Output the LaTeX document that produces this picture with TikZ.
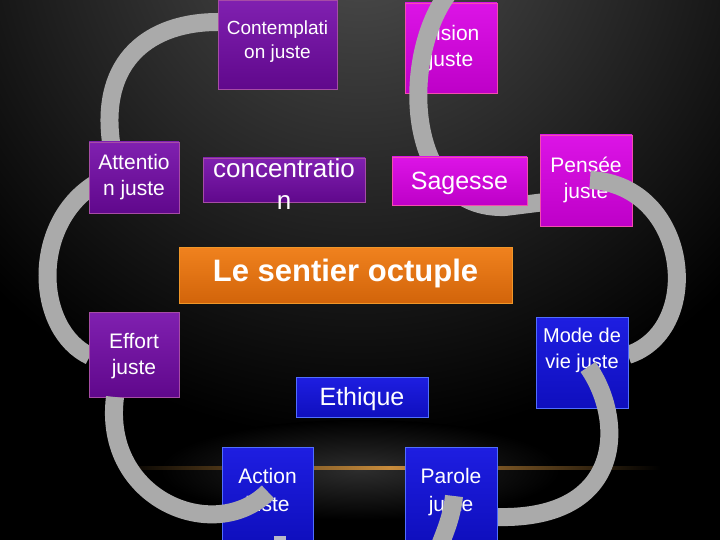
\documentclass[tikz,border=0pt]{standalone}
\usepackage{fontspec}
\setmainfont{Liberation Sans}
\definecolor{arcgray}{RGB}{170,170,170}
\definecolor{ptop}{RGB}{128,32,176}
\definecolor{pbot}{RGB}{96,8,140}
\definecolor{mtop}{RGB}{220,20,230}
\definecolor{mbot}{RGB}{190,0,200}
\definecolor{btop}{RGB}{30,30,225}
\definecolor{bbot}{RGB}{15,15,190}
\definecolor{bdraw}{RGB}{80,110,255}
\definecolor{otop}{RGB}{240,130,30}
\definecolor{obot}{RGB}{210,100,10}
\definecolor{odraw}{RGB}{240,150,40}
\definecolor{bgg}{RGB}{80,80,80}
\definecolor{bgg2}{RGB}{45,45,45}
\definecolor{glow}{RGB}{200,140,60}
\definecolor{lightarc}{RGB}{185,185,200}
\begin{document}
\begin{tikzpicture}[x=1pt,y=-1pt,
  pbox/.style={draw=violet!70!white, line width=0.6pt, inner sep=0pt, top color=ptop, bottom color=pbot},
  mbox/.style={draw=magenta!70!white, line width=0.6pt, inner sep=0pt, top color=mtop, bottom color=mbot},
  bbox/.style={draw=bdraw, line width=1pt, inner sep=0pt, top color=btop, bottom color=bbot},
  arcl/.style={draw=arcgray, line width=18pt},
  fs/.style 2 args={font=\fontsize{#1}{#2}\selectfont, text=white, align=center}
]
\useasboundingbox (0,0) rectangle (720,540);
\fill[black] (0,0) rectangle (720,540);
\begin{scope}
\clip (0,0) rectangle (720,540);
\shade[inner color=bgg, outer color=black] (360,-80) circle (520);
\shade[inner color=bgg2, outer color=black] (360,470) ellipse (200 and 50);
\shade[left color=black, right color=black, middle color=glow] (120,466) rectangle (660,469);
\end{scope}

\coordinate (a1s) at (111,142);
\coordinate (a1e) at (218,22);
\draw[arcl] (a1s) .. controls (100,60) and (150,22) .. (a1e);
\coordinate (a7s) at (95,184);
\coordinate (a7e) at (90,356);
\draw[arcl] (a7s) .. controls (30,225) and (35,330) .. (a7e);

\node[pbox, minimum width=119, minimum height=89] (cont) at (277.5,44.5) {};
\node[fs={19}{24}] (contt) at (277.5,42) {Contemplati\\on juste};
\node[pbox, minimum width=90, minimum height=71] (att) at (134,177.5) {};
\node[fs={21}{26}] (attt) at (134,177.5) {Attentio\\n juste};
\node[pbox, minimum width=162, minimum height=44] (conc) at (284,180) {};
\node[fs={26}{32}] (conct) at (284,184) {concentratio\\n};
\node[pbox, minimum width=90, minimum height=85] (eff) at (134,354.5) {};
\node[fs={21}{26}] (efft) at (134,356) {Effort\\juste};
\node[bbox, minimum width=132, minimum height=40] (eth) at (362,397) {};
\node[fs={25}{30}] (etht) at (362,399) {Ethique};
\node[draw=odraw, top color=otop, bottom color=obot, minimum width=333, minimum height=56, inner sep=0pt] (sent) at (345.5,275) {};
\node[fs={31}{36}, font=\fontsize{31}{36}\selectfont\bfseries] (sentt) at (345.5,273) {Le sentier octuple};
\node[mbox, minimum width=92, minimum height=90] (vis) at (451,48) {};
\node[fs={21}{26}] (vist) at (451,48) {Vision\\juste};

\coordinate (a2s) at (447,-5);
\coordinate (a2m) at (505,207);
\coordinate (a2e) at (545,202);
\draw[arcl] (a2s) .. controls (400,60) and (405,210) .. (a2m) -- (a2e);

\node[mbox, minimum width=135, minimum height=48] (sag) at (459.5,181) {};
\node[fs={25}{30}] (sagt) at (459.5,183) {Sagesse};

\node[mbox, minimum width=92, minimum height=91] (pen) at (586,180.5) {};
\node[fs={21}{26}] (pent) at (586,180) {Pensée\\juste};
\coordinate (a3s) at (590,180);
\coordinate (a3e) at (628,355);
\draw[arcl] (a3s) .. controls (690,185) and (705,330) .. (a3e);

\node[bbox, minimum width=92, minimum height=91] (mode) at (582,362.5) {};
\node[fs={20}{26}] (modet) at (582,350) {Mode de\\vie juste};
\coordinate (a4s) at (588,367);
\coordinate (a4e) at (497,517);
\draw[arcl] (a4s) .. controls (625,420) and (625,520) .. (a4e);

\node[bbox, minimum width=92, minimum height=93] (par) at (451,493.5) {};
\node[fs={21}{28}] (part) at (451,492) {Parole\\juste};
\coordinate (a5s) at (454,496);
\coordinate (a5e) at (440,545);
\draw[arcl] (a5s) .. controls (452,515) and (446,530) .. (a5e);

\node[bbox, minimum width=91, minimum height=93] (act) at (267.5,493.5) {};
\node[fs={21}{28}] (actt) at (267.5,492) {Action\\juste};
\coordinate (a6s) at (115,397);
\coordinate (a6e) at (268,492);
\draw[arcl] (a6s) .. controls (102,500) and (215,545) .. (a6e);
\coordinate (a8s) at (280,536);
\coordinate (a8e) at (280,545);
\draw[arcl, draw=lightarc, line width=12pt] (a8s) -- (a8e);
\end{tikzpicture}
\end{document}
